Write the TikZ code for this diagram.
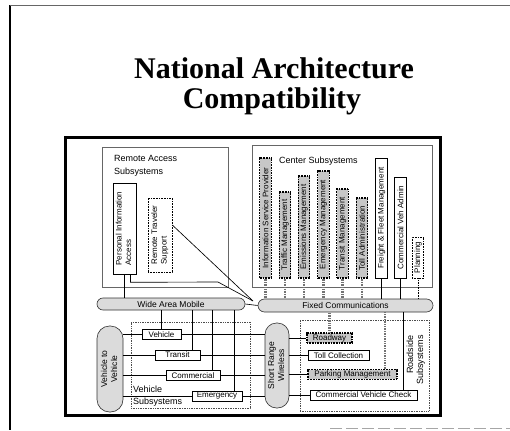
\documentclass[tikz,border=0pt]{standalone}
\usepackage{fontspec}
\setmainfont{Liberation Sans}
\newfontfamily\titlefont{Liberation Serif}
\begin{document}
\begin{tikzpicture}[x=1pt,y=-1pt,
  lbl/.style={font=\fontsize{9}{10}\selectfont, inner sep=0pt},
  box/.style={draw=black, line width=0.6pt, fill=white, inner sep=0.5pt, font=\fontsize{8}{9.5}\selectfont},
  sbox/.style={box, line width=1.2pt, dash pattern=on 1pt off 0.6pt, fill=black!22},
  dbox/.style={box, densely dotted},
  pill/.style={draw=black!80, line width=0.6pt, fill=black!14, inner sep=0pt, font=\fontsize{8.5}{10}\selectfont},
  conn/.style={line width=0.65pt},
  sconn/.style={draw=black!55, line width=2.2pt, dash pattern=on 0.8pt off 0.9pt},
  dconn/.style={line width=0.65pt, densely dotted},
  grp/.style={draw=black!60, line width=0.7pt, inner sep=0pt},
  dgrp/.style={draw=black!70, line width=0.7pt, densely dotted, inner sep=0pt},
  ttl/.style={font=\titlefont\bfseries\fontsize{30}{30}\selectfont, anchor=base, inner sep=0pt}
]
\useasboundingbox (0,0) rectangle (510,430);
\fill[white] (0,0) rectangle (510,430);

% page frame
\draw[line width=1.2pt] (10,5) -- (10,430);
\draw[black!60, line width=0.8pt] (10,5) -- (510,5);
\draw[black!35, line width=0.8pt, dash pattern=on 12pt off 4pt] (330,428) -- (510,428);

% title
\node[ttl] (t1) at (274,79) {National Architecture};
\node[ttl] (t2) at (272,109) {Compatibility};

% diagram frame
\node[draw, line width=3pt, minimum width=375, minimum height=277, inner sep=0pt] (frame) at (252.5,276.5) {};

% group boxes
\node[grp, minimum width=126, minimum height=140] (ra) at (165,217) {};
\node[grp, minimum width=180, minimum height=142] (cs) at (342,216) {};
\node[dgrp, minimum width=119, minimum height=86] (vs) at (190.5,365) {};
\node[dgrp, minimum width=129, minimum height=91] (rs) at (364.5,365.5) {};

\node[lbl, anchor=base west] (ral1) at (114,162) {Remote Access};
\node[lbl, anchor=base west] (ral2) at (114,175) {Subsystems};
\node[lbl, anchor=base west] (csl) at (279,164) {Center Subsystems};
\node[lbl, anchor=base west] (vsl1) at (133,392) {Vehicle};
\node[lbl, anchor=base west] (vsl2) at (133,404) {Subsystems};
\node[lbl] (rsl) at (416,360) {\rotatebox{90}{\begin{tabular}{@{}r@{}}Roadside\\Subsystems\end{tabular}}};

% remote access boxes
\node[box, minimum width=23, minimum height=91] (pia) at (124.5,228.5) {\rotatebox{90}{\begin{tabular}{@{}l@{}}Personal Information\\Access\end{tabular}}};
\node[dbox, minimum width=24, minimum height=74] (rts) at (160,235) {\rotatebox{90}{\begin{tabular}{@{}l@{}}Remote Traveler\\Support\end{tabular}}};

% center boxes
\node[sbox, minimum width=11.5, minimum height=120] (isp) at (265.5,218) {\rotatebox{90}{Information Service Provider}};
\node[sbox, minimum width=11.5, minimum height=86] (tm) at (285,235) {\rotatebox{90}{Traffic Management}};
\node[sbox, minimum width=11.5, minimum height=102] (emis) at (304,227) {\rotatebox{90}{Emissions Management}};
\node[sbox, minimum width=11.5, minimum height=107] (emer) at (323.5,224.5) {\rotatebox{90}{Emergency Management}};
\node[sbox, minimum width=11.5, minimum height=89] (trm) at (342.5,233.5) {\rotatebox{90}{Transit Management}};
\node[sbox, minimum width=11.5, minimum height=80] (toll) at (362,238) {\rotatebox{90}{Toll Administration}};
\node[box, minimum width=11.5, minimum height=120] (ff) at (381.5,218) {\rotatebox{90}{Freight \& Fleet Management}};
\node[box, minimum width=11.5, minimum height=101] (cva) at (400.5,227.5) {\rotatebox{90}{Commercial Veh Admin}};
\node[dbox, minimum width=11.5, minimum height=41] (plan) at (418,257.5) {\rotatebox{90}{Planning}};

% communication bars
\node[pill, rounded corners=6pt, minimum width=148, minimum height=12] (wam) at (171,304) {Wide Area Mobile};
\node[pill, rounded corners=6.5pt, minimum width=175, minimum height=13] (fc) at (345.5,305.5) {Fixed Communications};
\node[pill, rounded corners=12.5pt, minimum width=26, minimum height=86] (v2v) at (110,369) {\rotatebox{90}{\begin{tabular}{@{}c@{}}Vehicle to\\Vehicle\end{tabular}}};
\node[pill, rounded corners=11.5pt, minimum width=24, minimum height=85] (srw) at (277,365.5) {\rotatebox{90}{\begin{tabular}{@{}c@{}}Short Range\\Wireless\end{tabular}}};

% vehicle boxes
\node[box, minimum width=39, minimum height=10.5] (veh) at (161.5,334.5) {Vehicle};
\node[box, minimum width=45, minimum height=10] (trn) at (177.5,355) {Transit};
\node[box, minimum width=54, minimum height=9.5] (com) at (193,375.5) {Commercial};
\node[box, minimum width=50, minimum height=10] (emg) at (217,396) {Emergency};

% roadside boxes
\node[sbox, minimum width=45, minimum height=10] (rdw) at (329.5,338) {Roadway};
\node[box, minimum width=61, minimum height=9.5] (tlc) at (338.5,355.5) {Toll Collection};
\node[sbox, minimum width=89, minimum height=9.5] (prk) at (352.5,374.5) {Parking Management};
\node[box, minimum width=107, minimum height=10] (cvc) at (363.5,395) {Commercial Vehicle Check};

% junction between bars
\coordinate (J) at (253,301);
\draw[conn] (wam.east) -- (fc.west);

% remote connectors
\draw[conn] (pia.south) -- (pia.south |- wam.north);
\draw[conn] ([xshift=6pt]pia.south) -- ++(0,8) -- (218,282) -- (J);
\draw[conn] ([yshift=10pt]rts.east) -- (J);

% center connectors
\foreach \n in {isp,tm,emis,emer,trm,toll}{
  \draw[sconn] (\n.south) -- (\n.south |- fc.north);
}
\draw[conn] (ff.south) -- (ff.south |- fc.north);
\draw[conn] (cva.south) -- (cva.south |- fc.north);
\draw[dconn] (plan.south) -- (plan.south |- fc.north);

% wide area mobile to vehicles
\coordinate (trnT) at ([xshift=14.5pt]trn.north);
\coordinate (comT) at ([xshift=19pt]com.north);
\coordinate (emgT) at ([xshift=17pt]emg.north);
\draw[conn] (veh.north) -- (veh.north |- wam.south);
\draw[conn] (trnT) -- (trnT |- wam.south);
\draw[conn] (comT) -- (comT |- wam.south);
\draw[conn] (emgT) -- (emgT |- wam.south);

% vehicle to vehicle / short range lines
\foreach \b in {veh,trn,com,emg}{
  \draw[conn] (v2v.east |- \b.west) -- (\b.west);
  \draw[conn] (\b.east) -- (\b.east -| srw.west);
}
\foreach \b in {rdw,tlc,prk,cvc}{
  \draw[conn] (srw.east |- \b.west) -- (\b.west);
}

% fixed to roadside
\coordinate (prkT) at ([xshift=32.5pt]prk.north);
\coordinate (cvcT) at ([xshift=39.5pt]cvc.north);
\draw[sconn] (rdw.north) -- (rdw.north |- fc.south);
\draw[sconn] (prkT) -- (prkT |- fc.south);
\draw[conn] (cvcT) -- (cvcT |- fc.south);
\end{tikzpicture}
\end{document}
